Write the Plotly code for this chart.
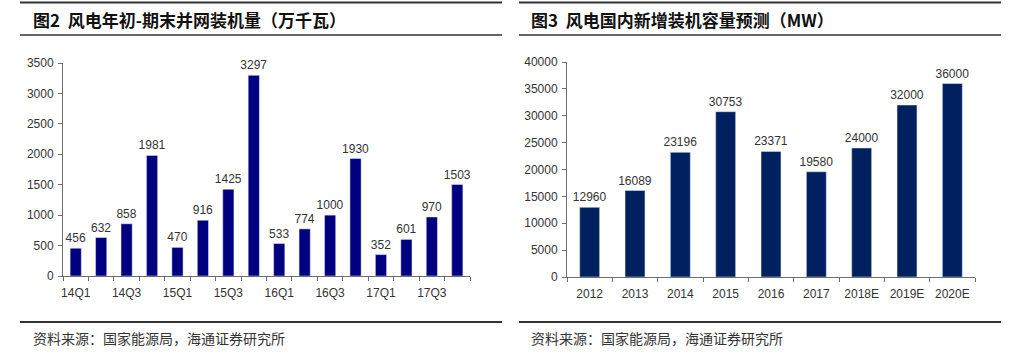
import plotly.graph_objects as go

W, H = 1033, 355

# ---- data ----
left_categories = ["14Q1", "14Q2", "14Q3", "14Q4", "15Q1", "15Q2", "15Q3", "15Q4",
                   "16Q1", "16Q2", "16Q3", "16Q4", "17Q1", "17Q2", "17Q3", "17Q4"]
left_values = [456, 632, 858, 1981, 470, 916, 1425, 3297,
               533, 774, 1000, 1930, 352, 601, 970, 1503]
left_ticklabels = ["14Q1", "", "14Q3", "", "15Q1", "", "15Q3", "",
                   "16Q1", "", "16Q3", "", "17Q1", "", "17Q3", ""]

right_categories = ["2012", "2013", "2014", "2015", "2016", "2017", "2018E", "2019E", "2020E"]
right_values = [12960, 16089, 23196, 30753, 23371, 19580, 24000, 32000, 36000]

left_title = "图2  风电年初-期末并网装机量（万千瓦）"
right_title = "图3  风电国内新增装机容量预测（MW）"
source_text = "资料来源：国家能源局，海通证券研究所"


def px(x):
    return x / W


def py(y):
    return 1 - y / H


LAT = "Liberation Sans, Arial, sans-serif"
CJK = "Noto Sans CJK SC, sans-serif"

fig = go.Figure()

fig.add_trace(go.Bar(
    x=left_categories, y=left_values, marker_color="#000080",
    text=[str(v) for v in left_values], textposition="outside",
    constraintext="none",
    textfont=dict(family=LAT, size=12, color="#333333"),
    cliponaxis=False, xaxis="x", yaxis="y", showlegend=False, hoverinfo="skip",
))
fig.add_trace(go.Bar(
    x=right_categories, y=right_values, marker_color="#002060",
    text=[str(v) for v in right_values], textposition="outside",
    constraintext="none",
    textfont=dict(family=LAT, size=12, color="#333333"),
    cliponaxis=False, xaxis="x2", yaxis="y2", showlegend=False, hoverinfo="skip",
))

axis_common = dict(showgrid=False, zeroline=False, showline=True, linecolor="#6e6e6e",
                   linewidth=1, ticks="outside", ticklen=4, tickcolor="#6e6e6e",
                   automargin=False, tickangle=0,
                   tickfont=dict(family=LAT, size=12, color="#333333"), fixedrange=True)

fig.update_layout(
    width=W, height=H, margin=dict(l=0, r=0, t=0, b=0, autoexpand=False),
    paper_bgcolor="white", plot_bgcolor="white",
    bargap=0.56,
    xaxis=dict(domain=[px(63), px(470)], anchor="y", type="category",
               tickmode="array", tickvals=left_categories, ticktext=left_ticklabels,
               tickson="boundaries", ticklabelstandoff=6, **axis_common),
    yaxis=dict(domain=[py(276), py(63)], anchor="x", range=[0, 3500], dtick=500,
               tickformat="d", ticklabelstandoff=2, **axis_common),
    xaxis2=dict(domain=[px(567), px(975)], anchor="y2", type="category",
                tickson="boundaries", ticklabelstandoff=6, **axis_common),
    yaxis2=dict(domain=[py(277), py(62)], anchor="x2", range=[0, 40000], dtick=5000,
                tickformat="d", ticklabelstandoff=2, **axis_common),
)

shapes = []
for (x0, x1) in [(20, 502), (519, 1001)]:
    for y in [2.5, 35, 322]:
        shapes.append(dict(type="line", xref="paper", yref="paper",
                           x0=px(x0), x1=px(x1), y0=py(y), y1=py(y),
                           line=dict(color="#333333", width=2 if y != 35 else 1.5)))
fig.update_layout(shapes=shapes)

annotations = [
    dict(text="<b>" + left_title + "</b>", x=px(31), y=py(19), xref="paper", yref="paper",
         xanchor="left", yanchor="middle", showarrow=False,
         font=dict(family=CJK, size=17, color="#111111")),
    dict(text="<b>" + right_title + "</b>", x=px(529), y=py(19), xref="paper", yref="paper",
         xanchor="left", yanchor="middle", showarrow=False,
         font=dict(family=CJK, size=17, color="#111111")),
    dict(text=source_text, x=px(31), y=py(338), xref="paper", yref="paper",
         xanchor="left", yanchor="middle", showarrow=False,
         font=dict(family=CJK, size=14, color="#333333")),
    dict(text=source_text, x=px(529), y=py(338), xref="paper", yref="paper",
         xanchor="left", yanchor="middle", showarrow=False,
         font=dict(family=CJK, size=14, color="#333333")),
]
fig.update_layout(annotations=annotations)

fig.write_html("out.html", config={"displayModeBar": False},
               post_script="document.body.style.margin='0';document.body.style.padding='0';")
